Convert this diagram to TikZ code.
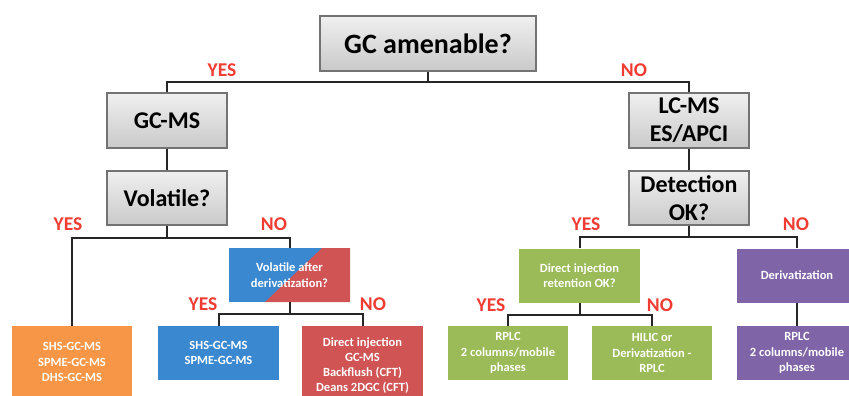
\documentclass[tikz,border=0pt]{standalone}
\usepackage{fontspec}
\setmainfont{Carlito}
\definecolor{boxorange}{RGB}{247,150,70}
\definecolor{boxblue}{RGB}{58,137,208}
\definecolor{boxred}{RGB}{208,84,84}
\definecolor{boxgreen}{RGB}{155,187,89}
\definecolor{boxpurple}{RGB}{128,100,168}
\definecolor{answred}{RGB}{240,60,50}

\begin{document}
\begin{tikzpicture}[x=1pt,y=-1pt]
\tikzstyle {sqg}=[rectangle, minimum width=120pt, minimum height=55pt, inner sep=0pt, draw=gray!90!black, line width=1.2pt, top color=gray!12, bottom color=gray!42, align=center, font=\bfseries\fontsize{24}{28}\selectfont]
\tikzstyle {sqc}=[rectangle, minimum width=121pt, minimum height=54pt, inner sep=0pt, text=white, align=center, font=\bfseries\fontsize{12.5}{15.5}\selectfont]
\tikzstyle {ans}=[text=answred, font=\bfseries\fontsize{19.5}{20}\selectfont]
\tikzstyle {link}=[line width=2pt, black!85]
\clip (0,0) rectangle (849,396);
\fill[white] (0,0) rectangle (849,396);
\node (amen) [sqg, minimum width=216pt, font=\bfseries\fontsize{28}{30}\selectfont] at (428,43.5) {GC amenable?};
\node (gcms) [sqg] at (167,120.5) {GC-MS};
\node (vol) [sqg, minimum height=54pt] at (167,198) {Volatile?};
\node (lcms) [sqg] at (689,120.5) {LC-MS\\ES/APCI};
\node (det) [sqg, minimum height=54pt] at (689,198) {Detection\\OK?};
\node (orng) [sqc, fill=boxorange, minimum width=120pt, minimum height=72pt] at (72,362) {SHS-GC-MS\\SPME-GC-MS\\DHS-GC-MS};
\node (vad) [sqc, fill=boxblue, path picture={\fill[boxred] ([xshift=-28pt]path picture bounding box.north east) -- (path picture bounding box.north east) -- (path picture bounding box.south east) -- ([xshift=36pt]path picture bounding box.south west) -- cycle;}] at (289.5,275) {Volatile after\\derivatization?};
\node (blu) [sqc, fill=boxblue] at (218.5,353) {SHS-GC-MS\\SPME-GC-MS};
\node (red) [sqc, fill=boxred, minimum height=80pt, font=\bfseries\fontsize{12.5}{15}\selectfont] at (362.5,366) {Direct injection\\GC-MS\\Backflush (CFT)\\Deans 2DGC (CFT)};
\node (dirret) [sqc, fill=boxgreen] at (579.5,275.5) {Direct injection\\retention OK?};
\node (rplc1) [sqc, fill=boxgreen, minimum width=120pt] at (508,353) {RPLC\\2 columns/mobile\\phases};
\node (hilic) [sqc, fill=boxgreen, minimum width=120pt] at (652,353) {HILIC or\\Derivatization -\\RPLC};
\node (deriv) [sqc, fill=boxpurple, minimum width=120pt] at (797,275.5) {Derivatization};
\node (rplc2) [sqc, fill=boxpurple, minimum width=120pt] at (797,353) {RPLC\\2 columns/mobile\\phases};
% junctions
\coordinate (j1) at (428,82);
\coordinate (j2) at (167,238);
\coordinate (j3) at (289.5,314);
\coordinate (j4) at (689,237);
\coordinate (j5) at (579.5,315);
\draw[link] (amen.south) -- (j1);
\draw[link] (gcms.north) |- (j1) -| (lcms.north);
\draw[link] (gcms.south) -- (vol.north);
\draw[link] (lcms.south) -- (det.north);
\draw[link] (vol.south) -- (j2);
\draw[link] (orng.north) |- (j2) -| (vad.north);
\draw[link] (vad.south) -- (j3);
\draw[link] (blu.north) |- (j3) -| (red.north);
\draw[link] (det.south) -- (j4);
\draw[link] (dirret.north) |- (j4) -| (deriv.north);
\draw[link] (dirret.south) -- (j5);
\draw[link] (rplc1.north) |- (j5) -| (hilic.north);
\draw[link] (deriv.south) -- (rplc2.north);
% answers
\node (yes1) [ans] at (222,70) {YES};
\node (no1) [ans] at (634,70) {NO};
\node (yes2) [ans] at (68,224) {YES};
\node (no2) [ans] at (274,224) {NO};
\node (yes3) [ans] at (203,304) {YES};
\node (no3) [ans] at (373,304) {NO};
\node (yes4) [ans] at (586,224) {YES};
\node (no4) [ans] at (796,224) {NO};
\node (yes5) [ans] at (491,305) {YES};
\node (no5) [ans] at (660,305) {NO};
\end{tikzpicture}
\end{document}
